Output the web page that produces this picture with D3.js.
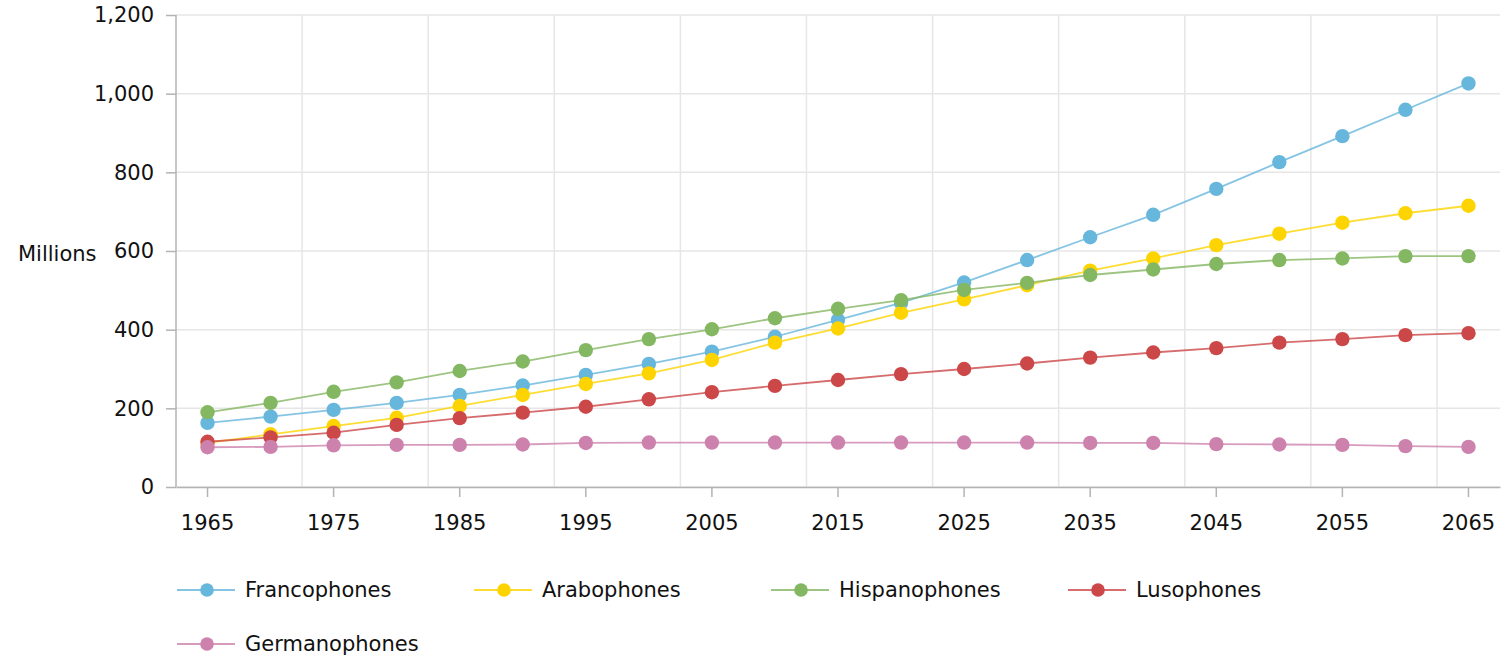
<!DOCTYPE html>
<html lang="en">
<head>
<meta charset="utf-8">
<title>Speakers by language family</title>
<style>
  body { margin: 0; background: #fff; }
  text { font-family: "DejaVu Sans", Verdana, sans-serif; }
</style>
</head>
<body>
<svg width="1507" height="658"></svg>
<script src="https://d3js.org/d3.v7.min.js"></script>
<script>
var years = [1965, 1970, 1975, 1980, 1985, 1990, 1995, 2000, 2005, 2010, 2015,
             2020, 2025, 2030, 2035, 2040, 2045, 2050, 2055, 2060, 2065];
var yTicks = [0, 200, 400, 600, 800, 1000, 1200];

var seriesNames = ["Francophones", "Arabophones", "Hispanophones", "Lusophones", "Germanophones"];
var seriesColors = ["#67b7dc", "#fdd400", "#84b761", "#cc4748", "#cd82ad"];

var francophones  = [163, 179, 196, 214, 234, 258, 285, 313, 344, 382, 425, 468, 520, 577, 635, 692, 758, 826, 892, 959, 1026];
var arabophones   = [112, 134, 155, 176, 206, 234, 262, 289, 323, 367, 403, 443, 477, 513, 550, 581, 615, 644, 672, 696, 715];
var hispanophones = [190, 214, 242, 266, 295, 319, 348, 376, 401, 429, 453, 475, 501, 519, 539, 553, 567, 577, 581, 587, 587];
var lusophones    = [115, 126, 138, 158, 175, 189, 204, 223, 241, 257, 272, 287, 300, 314, 329, 342, 353, 367, 376, 386, 391];
var germanophones = [101, 102, 106, 107, 107, 108, 112, 113, 113, 113, 113, 113, 113, 113, 112, 112, 109, 108, 107, 104, 102];

var seriesValues = [francophones, arabophones, hispanophones, lusophones, germanophones];

var svg = d3.select("svg"),
    margin = {top: 15, right: 7, bottom: 171, left: 176},
    width = +svg.attr("width") - margin.left - margin.right,
    height = +svg.attr("height") - margin.top - margin.bottom,
    g = svg.append("g").attr("transform", "translate(" + margin.left + "," + margin.top + ")");

var x = d3.scaleBand().domain(years).range([0, width]).padding(0);
var y = d3.scaleLinear().domain([0, 1200]).range([height, 0]);
var cx = function(yr) { return x(yr) + x.bandwidth() / 2; };

// grid
g.append("g")
    .selectAll("line")
    .data(yTicks)
    .enter().append("line")
    .attr("x1", 0).attr("x2", width)
    .attr("y1", function(d) { return y(d); })
    .attr("y2", function(d) { return y(d); })
    .attr("stroke", "#e6e6e6")
    .attr("stroke-width", 1.5);

g.append("g")
    .selectAll("line")
    .data(years.filter(function(d, i) { return i > 0 && i % 2 === 0; }))
    .enter().append("line")
    .attr("x1", function(d) { return x(d); })
    .attr("x2", function(d) { return x(d); })
    .attr("y1", 0).attr("y2", height)
    .attr("stroke", "#e6e6e6")
    .attr("stroke-width", 1.5);

// axes
var xAxis = g.append("g")
    .attr("transform", "translate(0," + height + ")")
    .call(d3.axisBottom(x)
      .tickValues(years.filter(function(d, i) { return i % 2 === 0; }))
      .tickSize(10).tickPadding(18).tickSizeOuter(0));

var yAxis = g.append("g")
    .call(d3.axisLeft(y)
      .tickValues(yTicks)
      .tickFormat(d3.format(","))
      .tickSize(10).tickPadding(12).tickSizeOuter(0));

[xAxis, yAxis].forEach(function(a) {
  a.select(".domain").attr("stroke", "#b3b3b3").attr("stroke-width", 1.5);
  a.selectAll(".tick line").attr("stroke", "#b3b3b3").attr("stroke-width", 1.5);
  a.selectAll(".tick text")
    .attr("fill", "#111")
    .style("font-family", "'DejaVu Sans', Verdana, sans-serif")
    .style("font-size", "21px");
});
yAxis.select(".domain").attr("d", "M0," + height + "V0");

svg.append("text")
    .attr("x", 18)
    .attr("y", 254)
    .attr("dy", "0.35em")
    .attr("fill", "#111")
    .style("font-size", "21px")
    .text("Millions");

// series
var line = d3.line()
    .x(function(d, i) { return cx(years[i]); })
    .y(function(d) { return y(d); });

seriesValues.forEach(function(vals, s) {
  var sg = g.append("g");
  sg.append("path")
      .datum(vals)
      .attr("fill", "none")
      .attr("stroke", seriesColors[s])
      .attr("stroke-opacity", 0.8)
      .attr("stroke-width", 1.8)
      .attr("d", line);
  sg.selectAll("circle")
      .data(vals)
      .enter().append("circle")
      .attr("cx", function(d, i) { return cx(years[i]); })
      .attr("cy", function(d) { return y(d); })
      .attr("r", 7.2)
      .attr("fill", seriesColors[s]);
});

// legend
var legend = svg.append("g");
var item = legend.selectAll("g")
    .data(seriesNames)
    .enter().append("g")
    .attr("transform", function(d, i) {
      return "translate(" + (177 + (i % 4) * 297) + "," + (590 + Math.floor(i / 4) * 54) + ")";
    });
item.append("line")
    .attr("x1", 0).attr("x2", 58)
    .attr("stroke", function(d, i) { return seriesColors[i]; })
    .attr("stroke-opacity", 0.8)
    .attr("stroke-width", 1.8);
item.append("circle")
    .attr("cx", 30).attr("r", 6.8)
    .attr("fill", function(d, i) { return seriesColors[i]; });
item.append("text")
    .attr("x", 68)
    .attr("dy", "0.35em")
    .attr("fill", "#111")
    .style("font-size", "21px")
    .text(function(d) { return d; });
</script>
</body>
</html>
